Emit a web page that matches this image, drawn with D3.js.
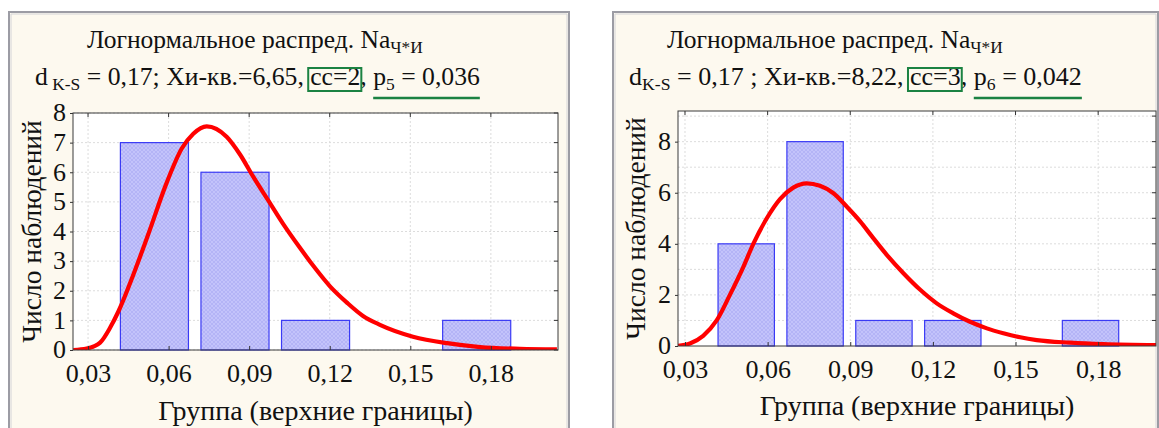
<!DOCTYPE html>
<html>
<head>
<meta charset="utf-8">
<script src="https://cdn.jsdelivr.net/npm/d3@7"></script>
<style>
  body { margin: 0; background: #fff; }
  svg { display: block; font-family: "Liberation Serif", "Times New Roman", Times, serif; }
  svg text { font-family: "Liberation Serif", "Times New Roman", Times, serif !important; fill: #111; white-space: pre; }
</style>
</head>
<body>
<svg id="chart" width="1159" height="428"></svg>
<script>
// Histograms of Na concentration with fitted lognormal density curves

const SERIF = '"Liberation Serif", "Times New Roman", Times, serif';

const xTickValues = [0.03, 0.06, 0.09, 0.12, 0.15, 0.18];

// Left sample
const leftBinLower = [0.04, 0.07, 0.10, 0.13, 0.16];
const leftBinUpper = [0.07, 0.10, 0.13, 0.16, 0.19];
const leftCounts   = [7, 6, 1, 0, 1];
const leftCurveX = [0.0245, 0.0295, 0.0345, 0.0382, 0.0413, 0.0469, 0.0524, 0.0593, 0.0649, 0.0692,
                    0.0742, 0.0816, 0.0866, 0.0915, 0.0971, 0.1027, 0.1089, 0.1138, 0.1201, 0.1264,
                    0.1324, 0.1387, 0.1510, 0.1637, 0.1760, 0.1908, 0.2046];
const leftCurveY = [0.0, 0.05, 0.25, 0.75, 1.3, 2.55, 3.9, 5.65, 6.8, 7.3,
                    7.55, 7.2, 6.6, 5.85, 5.05, 4.25, 3.45, 2.85, 2.15, 1.6,
                    1.15, 0.85, 0.45, 0.23, 0.1, 0.04, 0.02];
const leftYTickLabels = [0, 1, 2, 3, 4, 5, 6, 7, 8];
const leftStats = ["d", " K-S", " = 0,17; Хи-кв.=6,65, ", "cc=2", ", ", "p", "5", " = 0,036"];

// Right sample
const rightBinLower = [0.04, 0.065, 0.09, 0.115, 0.14, 0.165];
const rightBinUpper = [0.065, 0.09, 0.115, 0.14, 0.165, 0.19];
const rightCounts   = [4, 8, 1, 1, 0, 1];
const rightCurveX = [0.0273, 0.0318, 0.0366, 0.0415, 0.0463, 0.0512, 0.0548, 0.0597, 0.0645, 0.0693,
                     0.0742, 0.0790, 0.0839, 0.0887, 0.0936, 0.0978, 0.1034, 0.1093, 0.1154, 0.1214,
                     0.1274, 0.1335, 0.1396, 0.1456, 0.1517, 0.1577, 0.1698, 0.1819, 0.2014];
const rightCurveY = [0.0, 0.1, 0.4, 1.0, 2.0, 3.1, 4.0, 5.0, 5.75, 6.2,
                     6.37, 6.27, 5.98, 5.46, 4.88, 4.3, 3.55, 2.85, 2.2, 1.67,
                     1.28, 0.95, 0.69, 0.5, 0.34, 0.23, 0.13, 0.07, 0.03];
const rightYTickLabels = [0, 2, 4, 6, 8];
const rightYGrid = [1, 2, 3, 4, 5, 6, 7, 8, 9];
const rightStats = ["d", "K-S", " = 0,17 ; Хи-кв.=8,22, ", "cc=3", ", ", "p", "6", " = 0,042"];

const titleMain = "Логнормальное распред. Na";
const titleSub = "Ч*И";
const xTitle = "Группа (верхние границы)";
const yTitle = "Число наблюдений";

const svg = d3.select("#chart");
const fmt = v => d3.format(".2f")(v).replace(".", ",");

// bar hatch texture
const defs = svg.append("defs");
const pat = defs.append("pattern").attr("id", "hatch")
  .attr("width", 4).attr("height", 4).attr("patternUnits", "userSpaceOnUse");
pat.append("rect").attr("width", 4).attr("height", 4).attr("fill", "#c3c3fb");
pat.append("path").attr("d", "M0,4 L4,0 M0,0 L4,4").attr("stroke", "#adadf3").attr("stroke-width", 0.7);

const GREEN = "#1b8242";

function panelFrame(x0, x1, y0) {
  svg.append("rect").attr("x", x0).attr("y", y0).attr("width", x1 - x0).attr("height", 440 - y0)
    .attr("fill", "#fdf9ef").attr("stroke", "#9c9ca4").attr("stroke-width", 2);
  svg.append("path").attr("d", `M${x0 + 2},440 V${y0 + 2} H${x1 - 2} V440`)
    .attr("fill", "none").attr("stroke", "#d4d4d8").attr("stroke-width", 1);
}

// one line of mixed-size text, scaled so that it spans the given width
function textLine(x0, y, segs, width) {
  const g = svg.append("g");
  const layout = size => {
    g.selectAll("*").remove();
    let x = x0;
    const out = [];
    segs.forEach(s => {
      const fs = s.sub ? size * 0.68 : size;
      const t = g.append("text").attr("x", x).attr("y", y + (s.sub ? size * 0.2 : 0))
        .attr("font-family", SERIF).style("font-family", SERIF)
        .style("font-size", fs + "px").text(s.t);
      const w = t.node().getComputedTextLength();
      out.push({ x, w });
      x += w;
    });
    return { out, total: x - x0 };
  };
  const first = layout(24);
  return layout(24 * width / first.total).out;
}

function drawTitle(x1, w1, x2, w2, y1, y2, stats) {
  textLine(x1, y1, [{ t: titleMain }, { t: titleSub, sub: true }], w1);
  const parts = textLine(x2, y2, [
    { t: stats[0] }, { t: stats[1], sub: true }, { t: stats[2] }, { t: stats[3] },
    { t: stats[4] }, { t: stats[5] }, { t: stats[6], sub: true }, { t: stats[7] }
  ], w2);
  const box = parts[3];
  svg.append("rect").attr("x", box.x - 2).attr("y", y2 - 17).attr("width", box.w + 3).attr("height", 23)
    .attr("fill", "none").attr("stroke", GREEN).attr("stroke-width", 2);
  const u0 = parts[5].x, u1 = parts[7].x + parts[7].w;
  svg.append("line").attr("x1", u0).attr("x2", u1).attr("y1", y2 + 13).attr("y2", y2 + 13)
    .attr("stroke", GREEN).attr("stroke-width", 2.5);
}

function drawPlot(o) {
  const x = d3.scaleLinear().domain(o.xDomain).range([o.l, o.r]);
  const y = d3.scaleLinear().domain([0, o.yMax]).range([o.b, o.t]);
  const g = svg.append("g");

  g.append("rect").attr("x", o.l).attr("y", o.t).attr("width", o.r - o.l).attr("height", o.b - o.t)
    .attr("fill", "#fff");

  // grid
  g.append("g").selectAll("line").data(o.yGrid).join("line")
    .attr("x1", o.l).attr("x2", o.r).attr("y1", d => y(d)).attr("y2", d => y(d))
    .attr("stroke", "#dcdcdc").attr("stroke-dasharray", "2,2");
  g.append("g").selectAll("line").data(xTickValues).join("line")
    .attr("x1", d => x(d)).attr("x2", d => x(d)).attr("y1", o.t).attr("y2", o.b)
    .attr("stroke", "#dcdcdc").attr("stroke-dasharray", "2,2");

  // bars
  const bars = o.lower.map((lo, i) => ({ lo, hi: o.upper[i], n: o.counts[i] })).filter(d => d.n > 0);
  g.append("g").selectAll("rect").data(bars).join("rect")
    .attr("x", d => x(d.lo) + 5.5)
    .attr("width", d => x(d.hi) - x(d.lo) - 12.5)
    .attr("y", d => y(d.n))
    .attr("height", d => y(0) - y(d.n))
    .attr("fill", "url(#hatch)").attr("stroke", "#3a3af5").attr("stroke-width", 1.2);

  // fitted curve
  const clipId = "clip" + o.l;
  defs.append("clipPath").attr("id", clipId).append("rect")
    .attr("x", o.l).attr("y", o.t - 5).attr("width", o.r - o.l).attr("height", o.b - o.t + 5);
  const pts = o.cx.map((v, i) => [v, o.cy[i]]);
  g.append("path").datum(pts)
    .attr("d", d3.line().x(d => x(d[0])).y(d => y(d[1])).curve(d3.curveMonotoneX))
    .attr("fill", "none").attr("stroke", "#ff0000").attr("stroke-width", 4.2)
    .attr("stroke-linejoin", "round").attr("clip-path", `url(#${clipId})`);

  // axes
  const ax = g.append("g").attr("transform", `translate(0,${o.b})`)
    .call(d3.axisBottom(x).tickValues(xTickValues).tickFormat(fmt).tickSize(-4).tickPadding(14));
  ax.attr("font-family", SERIF);
  ax.select(".domain").remove();
  ax.selectAll("line").attr("stroke", "#333");
  ax.selectAll("text").style("font-family", SERIF).style("font-size", "26px").attr("fill", "#111");

  const ay = g.append("g").attr("transform", `translate(${o.l},0)`)
    .call(d3.axisLeft(y).tickValues(o.yLabels).tickFormat(d3.format("d")).tickSize(3).tickPadding(4));
  ay.attr("font-family", SERIF);
  ay.select(".domain").remove();
  ay.selectAll("line").attr("stroke", "#333");
  ay.selectAll("text").style("font-family", SERIF).style("font-size", "26px").attr("fill", "#111").attr("dy", "0.3em");

  // mirror ticks on top and right
  g.append("g").selectAll("line").data(xTickValues).join("line")
    .attr("x1", d => x(d)).attr("x2", d => x(d)).attr("y1", o.t).attr("y2", o.t + 4).attr("stroke", "#333");
  g.append("g").selectAll("line").data(o.yGrid).join("line")
    .attr("x1", o.r - 4).attr("x2", o.r).attr("y1", d => y(d)).attr("y2", d => y(d)).attr("stroke", "#333");

  g.append("rect").attr("x", o.l).attr("y", o.t).attr("width", o.r - o.l).attr("height", o.b - o.t)
    .attr("fill", "none").attr("stroke", "#3a3a3a").attr("stroke-width", 1);

  // axis titles
  g.append("text").attr("x", (o.l + o.r) / 2).attr("y", o.xTitleY).attr("text-anchor", "middle")
    .style("font-family", SERIF).style("font-size", "28px").text(xTitle);
  g.append("text").attr("transform", `translate(${o.yTitleX},${(o.t + o.b) / 2}) rotate(-90)`)
    .attr("text-anchor", "middle").style("font-family", SERIF).style("font-size", "27.5px").text(yTitle);
}

// left panel
panelFrame(9, 569, 12);
drawTitle(87, 336, 35, 445, 48, 85, leftStats);
drawPlot({
  l: 73, r: 558, t: 113, b: 350,
  xDomain: [0.0244, 0.205], yMax: 8,
  lower: leftBinLower, upper: leftBinUpper, counts: leftCounts,
  cx: leftCurveX, cy: leftCurveY,
  yLabels: leftYTickLabels, yGrid: leftYTickLabels,
  xTitleY: 420, yTitleX: 41
});

// right panel
panelFrame(613, 1158, 12);
drawTitle(667, 336, 629, 453, 48, 85, rightStats);
drawPlot({
  l: 678, r: 1156, t: 111, b: 346,
  xDomain: [0.02746, 0.2010], yMax: 9.2,
  lower: rightBinLower, upper: rightBinUpper, counts: rightCounts,
  cx: rightCurveX, cy: rightCurveY,
  yLabels: rightYTickLabels, yGrid: rightYGrid,
  xTitleY: 415, yTitleX: 645
});
</script>
</body>
</html>
